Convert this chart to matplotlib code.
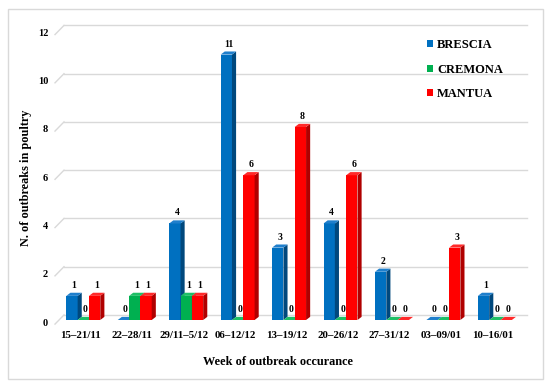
import matplotlib
matplotlib.use("Agg")
import matplotlib.pyplot as plt
from matplotlib.patches import Polygon, Rectangle, Patch
import matplotlib.transforms as mtransforms
import numpy as np

plt.rcParams['font.family'] = ['Liberation Serif', 'DejaVu Serif']
plt.rcParams['font.weight'] = 'bold'

weeks = ["15\u201321/11", "22\u201328/11", "29/11\u20135/12", "06\u201312/12", "13\u201319/12",
         "20\u201326/12", "27\u201331/12", "03\u201309/01", "10\u201316/01"]
brescia = [1, 0, 4, 11, 3, 4, 2, 0, 1]
cremona = [0, 1, 1, 0, 0, 0, 0, 0, 0]
mantua = [1, 1, 1, 6, 8, 6, 0, 3, 0]
series_names = ["BRESCIA", "CREMONA", "MANTUA"]
yticks = [0, 2, 4, 6, 8, 10, 12]

front_cols = ["#0070C0", "#00B050", "#FF0000"]
side_cols = ["#00487D", "#007A37", "#B00000"]
top_cols = ["#1F7FCC", "#1FBF66", "#FF2A2A"]

W, H = 550, 387
fig = plt.figure(figsize=(W / 100, H / 100), dpi=100)
# outer frame
fig.patches.append(Rectangle((8 / W, 1 - 379 / H), 535 / W, 370 / H, transform=fig.transFigure,
                             fill=False, edgecolor="#d9d9d9", linewidth=1))

ax = fig.add_axes([55 / W, 67 / H, 463 / W, 304 / H])
ax.set_xlim(-0.5, 8.5)
ax.set_ylim(0, 12.6)
for s in ax.spines.values():
    s.set_visible(False)

gx, gy = 0.175, 0.21  # back-wall offset in data units
for v in yticks:
    ax.plot([-0.5 + gx, 8.5 + gx], [v + gy, v + gy], color="#d9d9d9", lw=1, zorder=0, clip_on=False)
    ax.plot([-0.5, -0.5 + gx], [v - 0.17, v + gy], color="#d9d9d9", lw=1, zorder=0, clip_on=False)

x = np.arange(len(weeks))
bw = 0.22
shift = 0.05
dx, dy = 0.08, 0.13
data = [brescia, cremona, mantua]
for i, vals in enumerate(data):
    xs = x + (i - 1) * bw + shift
    bars = ax.bar(xs, vals, width=bw, color=front_cols[i], linewidth=0)
    for j, b in enumerate(bars):
        x0 = b.get_x()
        w = b.get_width()
        h = b.get_height()
        z = 2 + j * 0.01 + i * 0.001
        b.set_zorder(z)
        side = Polygon([(x0 + w, 0), (x0 + w + dx, dy), (x0 + w + dx, h + dy), (x0 + w, h)],
                       closed=True, facecolor=side_cols[i], edgecolor="none", zorder=z)
        top = Polygon([(x0, h), (x0 + dx, h + dy), (x0 + w + dx, h + dy), (x0 + w, h)],
                      closed=True, facecolor=top_cols[i], edgecolor="none", zorder=z)
        ax.add_patch(side)
        ax.add_patch(top)
        ax.text(x0 + w / 2 + dx / 2, h + dy + 0.12, str(vals[j]), ha="center", va="bottom",
                fontsize=7, fontweight="bold", zorder=5)

ax.set_yticks(yticks)
ax.set_yticklabels([str(v) for v in yticks], fontsize=7.5, fontweight="bold")
ax.tick_params(axis="y", length=0, pad=5)
off = mtransforms.ScaledTranslation(0, -2 / 100, fig.dpi_scale_trans)
for lab in ax.get_yticklabels():
    lab.set_transform(lab.get_transform() + off)
ax.set_xticks(x)
ax.set_xticklabels(weeks, fontsize=7.8, fontweight="bold")
ax.tick_params(axis="x", length=0, pad=8)

fig.text(278 / W, 1 - 362 / H, "Week of outbreak occurance", ha="center", va="center",
         fontsize=8.8, fontweight="bold")
fig.text(26 / W, 1 - 178 / H, "N. of outbreaks in poultry", ha="center", va="center",
         rotation=90, fontsize=8.8, fontweight="bold")

handles = [Patch(facecolor=c, edgecolor="none") for c in front_cols]
leg = fig.legend(handles, series_names, loc="upper left", bbox_to_anchor=(421 / W, 1 - 33 / H),
                 frameon=False, fontsize=9, handlelength=0.45, handleheight=0.45,
                 handletextpad=0.35, labelspacing=1.0, borderpad=0)

fig.savefig("out.png", dpi=100)
